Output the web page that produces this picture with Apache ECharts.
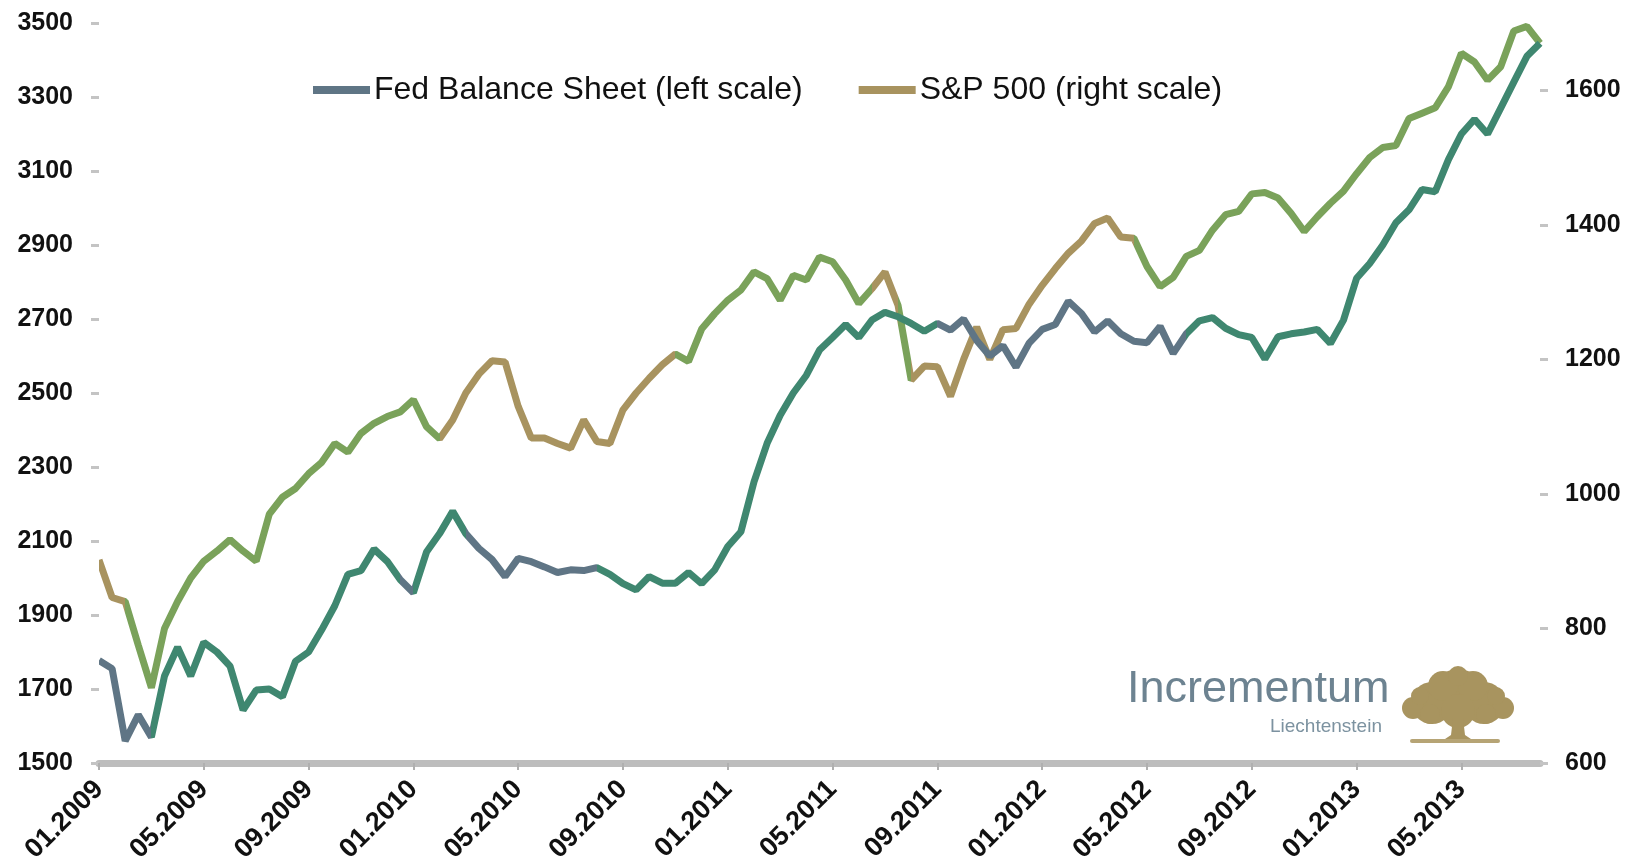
<!DOCTYPE html>
<html>
<head>
<meta charset="utf-8">
<title>Fed Balance Sheet vs S&amp;P 500</title>
<script src="https://cdn.jsdelivr.net/npm/echarts@6/dist/echarts.min.js"></script>
<style>
  html, body { margin: 0; padding: 0; background: #fff; }
  #chart { width: 1633px; height: 866px; }
</style>
</head>
<body>
<div id="chart"></div>
<script>
// half-monthly points from 01.2009 to 08.2013
const categories = []
for (let y = 2009; y <= 2013; y++) {
  for (let m = 1; m <= 12; m++) {
    if (y === 2013 && m > 8) break
    const mm = (m < 10 ? '0' : '') + m
    categories.push('01.' + mm + '.' + y)
    if (!(y === 2013 && m === 8)) categories.push('15.' + mm + '.' + y)
  }
}

// Fed balance sheet (left scale)
const fedBalance = [
  1777, 1755, 1560, 1630, 1570, 1735, 1813, 1735, 1826, 1800,
  1762, 1643, 1697, 1700, 1679, 1775, 1800, 1860, 1925, 2010,
  2020, 2078, 2045, 1995, 1960, 2070, 2120, 2180, 2120, 2080,
  2050, 2004, 2053, 2044, 2030, 2015, 2022, 2020, 2028, 2010,
  1985, 1968, 2004, 1986, 1986, 2015, 1985, 2022, 2085, 2125,
  2260, 2364, 2440, 2500, 2548, 2616, 2650, 2685, 2650, 2697,
  2718, 2706, 2688, 2667, 2688, 2670, 2700, 2642, 2600, 2628,
  2570, 2635, 2672, 2685, 2748, 2715, 2665, 2695, 2660, 2640,
  2636, 2680, 2607, 2660, 2695, 2704, 2675, 2658, 2650, 2592,
  2652, 2660, 2665, 2672, 2634, 2697, 2810, 2850, 2900, 2960,
  2995, 3050, 3044, 3130, 3200, 3240, 3200, 3270, 3340, 3410,
  3445
]

// S&P 500 (right scale)
const spx = [
  902, 846, 840, 775, 712, 800, 840, 875, 900, 915,
  932, 915, 900, 970, 995, 1008, 1030, 1047, 1075, 1062,
  1090, 1105, 1115, 1122, 1140, 1100, 1082, 1110, 1150, 1178,
  1198, 1196, 1130, 1083, 1083, 1075, 1068, 1110, 1078, 1075,
  1125, 1150, 1172, 1192, 1208, 1197, 1245, 1268, 1288, 1303,
  1330, 1320, 1288, 1325, 1318, 1352, 1345, 1318, 1283, 1305,
  1330, 1280, 1169, 1190, 1189, 1145, 1200, 1248, 1200, 1244,
  1246, 1282, 1310, 1335, 1358, 1376, 1402, 1410, 1382, 1380,
  1338, 1308, 1322, 1353, 1362, 1392, 1415, 1420, 1446, 1448,
  1440, 1417, 1390, 1412, 1432, 1450, 1476, 1500, 1515, 1518,
  1558, 1566, 1574, 1605, 1655, 1642, 1615, 1635, 1688, 1695,
  1670
]

const seriesNames = ['Fed Balance Sheet (left scale)', 'S&P 500 (right scale)']

// colours
const FED_GREY = '#5f7585'
const FED_GREEN = '#3f8770'
const SPX_TAN = '#a8935f'
const SPX_GREEN = '#7aa25a'
const fontFamily = '"Liberation Sans", Arial, sans-serif'

// colour segments along the x index
const fedSegments = [
  [0, 4.3, FED_GREY], [4.3, 23.4, FED_GREEN], [23.4, 24.3, FED_GREY],
  [24.3, 27.5, FED_GREEN], [27.5, 37.5, FED_GREY], [37.5, 63.9, FED_GREEN],
  [63.9, 82.5, FED_GREY], [82.5, 200, FED_GREEN]
]
const spxSegments = [
  [0, 2.4, SPX_TAN], [2.4, 3.6, SPX_GREEN], [3.6, 4.2, SPX_TAN],
  [4.2, 26.3, SPX_GREEN], [26.3, 44.1, SPX_TAN], [44.1, 59.1, SPX_GREEN],
  [59.1, 61, SPX_TAN], [61, 62.1, SPX_GREEN], [62.1, 79, SPX_TAN],
  [79, 200, SPX_GREEN]
]

function toPieces(segs) {
  return segs.map(function(s) { return { gte: s[0], lt: s[1], color: s[2] } })
}

const chart = echarts.init(document.getElementById('chart'))

const treeColor = '#a8945f'
// canopy blobs of the logo tree: [cx, cy, r]
const canopy = [
  [1458, 695, 26], [1432, 703, 21], [1484, 703, 21], [1413, 708, 11], [1503, 708, 11],
  [1443, 686, 15], [1473, 686, 15], [1458, 711, 17], [1420, 696, 9], [1496, 696, 9],
  [1430, 714, 10], [1486, 714, 10], [1458, 676, 10]
]

const labelStyle = { fontSize: 25, color: '#111', fontWeight: 'bold', fontFamily: fontFamily }
const plain = function(v) { return String(v) }

chart.setOption({
  animation: false,
  backgroundColor: '#fff',
  grid: { left: 99, right: 93, top: 23, bottom: 103, containLabel: false },
  legend: {
    left: 313,
    top: 74,
    padding: 0,
    icon: 'rect',
    itemWidth: 57,
    itemHeight: 8,
    itemGap: 56,
    textStyle: { fontSize: 32, color: '#111', fontFamily: fontFamily, padding: [0, 0, 0, -1] },
    data: [
      { name: seriesNames[0], itemStyle: { color: FED_GREY }},
      { name: seriesNames[1], itemStyle: { color: SPX_TAN }}
    ]
  },
  visualMap: [
    { type: 'piecewise', show: false, seriesIndex: 0, dimension: 0, pieces: toPieces(fedSegments) },
    { type: 'piecewise', show: false, seriesIndex: 1, dimension: 0, pieces: toPieces(spxSegments) }
  ],
  xAxis: {
    type: 'category',
    data: categories,
    boundaryGap: false,
    axisLine: { lineStyle: { color: '#bdbdbd', width: 7 }},
    axisTick: {
      interval: function(i) { return i % 8 === 0 },
      length: 7,
      lineStyle: { color: '#b0b0b0', width: 2 }
    },
    axisLabel: Object.assign({}, labelStyle, {
      interval: function(i) { return i % 8 === 0 },
      rotate: 45,
      margin: 22,
      fontSize: 27,
      formatter: function(v) { return v.slice(3) }
    }),
    splitLine: { show: false }
  },
  yAxis: [
    {
      type: 'value',
      min: 1500,
      max: 3500,
      interval: 200,
      axisLine: { show: false },
      axisTick: { show: true, length: 8, lineStyle: { color: '#c4c4c4', width: 3 }},
      axisLabel: Object.assign({}, labelStyle, { margin: 26, formatter: plain }),
      splitLine: { show: false }
    },
    {
      type: 'value',
      min: 600,
      max: 1700,
      interval: 200,
      position: 'right',
      axisLine: { show: false },
      axisTick: { show: true, length: 8, lineStyle: { color: '#c4c4c4', width: 3 }},
      axisLabel: Object.assign({}, labelStyle, { margin: 25, showMaxLabel: false, formatter: plain }),
      splitLine: { show: false }
    }
  ],
  series: [
    {
      name: seriesNames[0],
      type: 'line',
      yAxisIndex: 0,
      data: fedBalance,
      symbol: 'none',
      lineStyle: { width: 7 },
      z: 3
    },
    {
      name: seriesNames[1],
      type: 'line',
      yAxisIndex: 1,
      data: spx,
      symbol: 'none',
      lineStyle: { width: 7 },
      z: 2
    }
  ],
  graphic: [
    {
      type: 'text',
      left: 1127,
      top: 667,
      style: { text: 'Incrementum', fontSize: 45, fontFamily: fontFamily, fill: '#6d8391' }
    },
    {
      type: 'text',
      left: 1270,
      top: 717,
      style: { text: 'Liechtenstein', fontSize: 19, fontFamily: fontFamily, fill: '#7c92a0' }
    },
    // tree logo
    {
      type: 'group',
      children: canopy.map(function(c) {
        return { type: 'circle', shape: { cx: c[0], cy: c[1], r: c[2] }, style: { fill: treeColor }}
      }).concat([
        {
          type: 'polygon',
          shape: { points: [[1453, 718], [1463, 718], [1465, 735], [1474, 741], [1442, 741], [1451, 735]] },
          style: { fill: treeColor }
        },
        { type: 'rect', shape: { x: 1410, y: 739, width: 90, height: 4, r: 2 }, style: { fill: '#b6a475' }}
      ])
    }
  ]
})
</script>
</body>
</html>
